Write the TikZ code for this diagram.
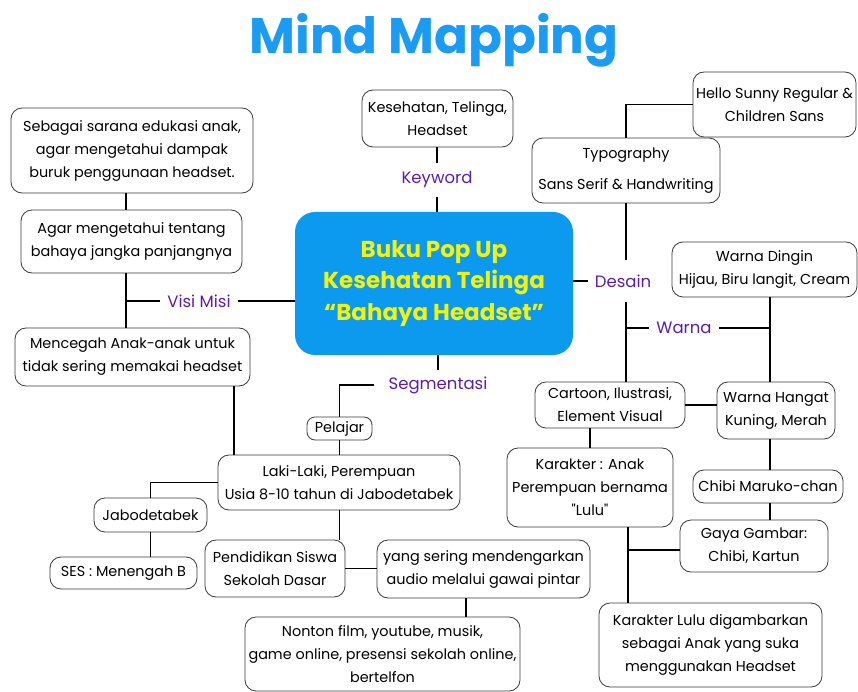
\documentclass[tikz,border=0pt]{standalone}
\usepackage{fontspec}
\setmainfont{Poppins}
\newfontfamily\plainq{Poppins}
\definecolor{boxgray}{HTML}{3A3A3A}
\definecolor{lblpurple}{HTML}{5B1FA6}
\definecolor{titleblue}{HTML}{1B9BF2}
\definecolor{centerblue}{HTML}{0C9AEF}
\definecolor{popyellow}{HTML}{F4F20C}
\begin{document}
\begin{tikzpicture}[x=1pt,y=-1pt,
  box/.style={draw=boxgray, line width=0.8pt, rounded corners=11pt, align=center, inner sep=0pt, fill=white, font=\fontsize{14.4}{23}\selectfont},
  lbl/.style={text=lblpurple, font=\fontsize{16.5}{18}\selectfont, inner xsep=7pt, inner ysep=0pt},
  conn/.style={draw=black, line width=1.1pt}]
\useasboundingbox[fill=white] (0,0) rectangle (858,692);

% title
\node[text=titleblue, font=\fontsize{50}{56}\bfseries\selectfont] (title) at (434,40) {Mind Mapping};

% centre
\node[fill=centerblue, rounded corners=20pt, minimum width=278pt, minimum height=143pt, inner sep=0pt, align=center,
  text=popyellow, font=\fontsize{23}{31.5}\bfseries\selectfont] (center) at (434,283.5)
  {Buku Pop Up\\Kesehatan Telinga\\“Bahaya Headset”};

% left column
\node[box, minimum width=242pt, minimum height=85pt] (a1) at (132,150.5) {Sebagai sarana edukasi anak,\\agar mengetahui dampak\\buruk penggunaan headset.};
\node[box, minimum width=221pt, minimum height=63pt] (a2) at (131.5,241.5) {Agar mengetahui tentang\\bahaya jangka panjangnya};
\node[box, minimum width=235pt, minimum height=58pt] (a3) at (132.5,357) {Mencegah Anak-anak untuk\\tidak sering memakai headset};
\node[lbl, minimum height=24pt] (visi) at (199,301) {Visi Misi};

% keyword
\node[box, minimum width=151pt, minimum height=57pt] (kwbox) at (437.5,118.5) {Kesehatan, Telinga,\\Headset};
\node[lbl, minimum height=34pt] (kw) at (437,180) {Keyword};

% segmentasi
\node[lbl, minimum height=30pt, inner xsep=14pt] (seg) at (438,385) {Segmentasi};
\node[box, rounded corners=8pt, minimum width=65pt, minimum height=23pt] (pelajar) at (339.5,428.5) {Pelajar};
\node[box, minimum width=242pt, minimum height=55pt] (laki) at (339,482.5) {Laki-Laki, Perempuan\\Usia 8-10 tahun di Jabodetabek};
\node[box, minimum width=113pt, minimum height=34pt] (jab) at (150.5,515) {Jabodetabek};
\node[box, minimum width=147pt, minimum height=32pt] (ses) at (123.5,573) {SES : Menengah B};
\node[box, minimum width=140pt, minimum height=57pt] (pend) at (275,568.5) {Pendidikan Siswa\\Sekolah Dasar};
\node[box, minimum width=213pt, minimum height=58pt] (yang) at (483.5,569) {yang sering mendengarkan\\audio melalui gawai pintar};
\node[box, minimum width=275pt, minimum height=74pt] (nonton) at (382.5,654) {Nonton film, youtube, musik,\\game online, presensi sekolah online,\\bertelfon};

% desain
\node[lbl, minimum height=42pt] (desain) at (623,281) {Desain};
\node[box, minimum width=163pt, minimum height=65pt] (hello) at (774.5,104.5) {Hello Sunny Regular \&\\Children Sans};
\node[box, minimum width=188pt, minimum height=65pt] (typo) at (626,170.5) {Typography\\[8pt]Sans Serif \& Handwriting};
\node[box, minimum width=185pt, minimum height=55pt] (dingin) at (764.5,269.5) {Warna Dingin\\Hijau, Biru langit, Cream};
\node[lbl, minimum height=24pt] (warna) at (684,328) {Warna};
\node[box, minimum width=150pt, minimum height=46pt] (cartoon) at (610,405) {Cartoon, Ilustrasi,\\Element Visual};
\node[box, minimum width=118pt, minimum height=57pt] (hangat) at (776,410.5) {Warna Hangat\\Kuning, Merah};
\node[box, minimum width=166pt, minimum height=79pt] (karakter) at (590,487.5) {Karakter : Anak\\Perempuan bernama\\{\plainq"}Lulu{\plainq"}};
\node[box, minimum width=150pt, minimum height=33pt] (chibi) at (768,486.5) {Chibi Maruko-chan};
\node[box, minimum width=148pt, minimum height=52pt] (gaya) at (754,546) {Gaya Gambar:\\Chibi, Kartun};
\node[box, minimum width=223pt, minimum height=84pt] (lulu) at (710.5,645) {Karakter Lulu digambarkan\\sebagai Anak yang suka\\menggunakan Headset};

% junction coordinates
\coordinate (vm) at (126,301);
\coordinate (j2) at (234,420);
\coordinate (j3) at (466,605);
\coordinate (dx) at (626,281);
\coordinate (wj) at (626,328);
\coordinate (wx) at (770,328);
\coordinate (kx) at (628,550);

% connectors left
\draw[conn] (vm |- a1.south) -- (vm |- a2.north);
\draw[conn] (vm |- a2.south) -- (vm |- a3.north);
\draw[conn] (vm) -- (visi.west);
\draw[conn] (visi.east) -- (center.west |- visi.east);
\draw[conn] (j2 |- a3.south) -- (j2 |- laki.north);

% keyword
\draw[conn] (kw.north) -- (kw.north |- kwbox.south);
\draw[conn] (kw.south) -- (kw.south |- center.north);

% segmentasi
\draw[conn] (seg.north) -- (seg.north |- center.south);
\draw[conn] (seg.west) -| (pelajar.north);
\draw[conn] (pelajar.south) -- (pelajar.south |- laki.north);
\draw[conn] (pelajar.south |- laki.south) -- (pelajar.south |- pend.north);
\draw[conn] (laki.west) -| (jab.north);
\draw[conn] (jab.south) -- (jab.south |- ses.north);
\draw[conn] (pend.east) -- (yang.west |- pend.east);
\draw[conn] (j3 |- yang.south) -- (j3 |- nonton.north);

% desain
\draw[conn] (center.east |- desain) -- (desain.west);
\draw[conn] (dx |- typo.south) -- (dx |- desain.north);
\draw[conn] (dx |- desain.south) -- (dx |- cartoon.north);
\draw[conn] (dx |- typo.north) |- (hello.west);
\draw[conn] (wj) -- (warna.west);
\draw[conn] (warna.east) -- (wx);
\draw[conn] (wx |- dingin.south) -- (wx |- hangat.north);
\draw[conn] (cartoon.east) -- (hangat.west |- cartoon.east);
\draw[conn] (karakter.north) -- (karakter.north |- cartoon.south);
\draw[conn] (wx |- hangat.south) -- (wx |- chibi.north);
\draw[conn] (wx |- chibi.south) -- (wx |- gaya.north);
\draw[conn] (kx |- karakter.south) -- (kx |- lulu.north);
\draw[conn] (kx) -- (gaya.west |- kx);
\end{tikzpicture}
\end{document}
